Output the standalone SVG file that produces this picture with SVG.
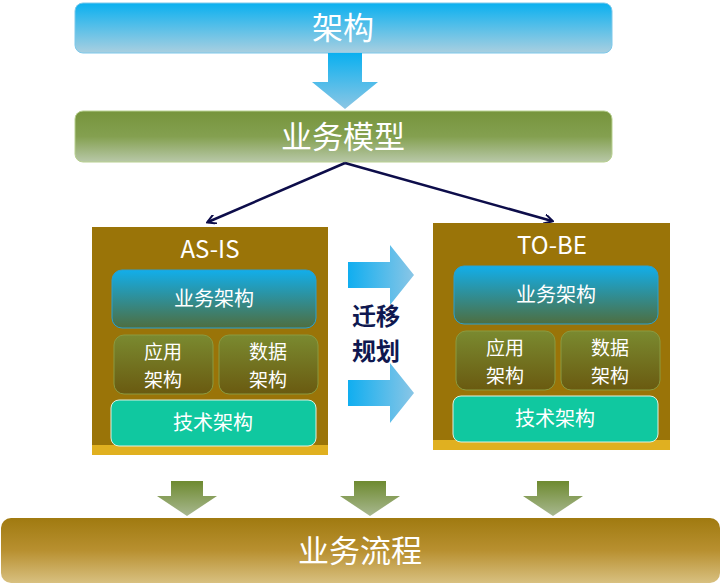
<svg xmlns="http://www.w3.org/2000/svg" width="721" height="588" viewBox="0 0 721 588">
<style>
text{font-family:"Noto Sans CJK SC","Liberation Sans",sans-serif;fill:#fff;text-anchor:middle}
.big{font-size:31px}.mid{font-size:20px}.two{font-size:19px}
.conn{stroke:#0d0d4a;stroke-width:2.5;fill:none;marker-end:url(#ah)}
</style>
<defs>
<linearGradient id="gBlue" x1="0" y1="0" x2="0" y2="1"><stop offset="0" stop-color="#0ab0f0"/><stop offset="1" stop-color="#a9cfe0"/></linearGradient>
<linearGradient id="gGreen" x1="0" y1="0" x2="0" y2="1"><stop offset="0" stop-color="#76943c"/><stop offset="0.5" stop-color="#84a050"/><stop offset="1" stop-color="#b8c8a8"/></linearGradient>
<linearGradient id="gBiz" x1="0" y1="0" x2="0" y2="1"><stop offset="0" stop-color="#12aeea"/><stop offset="1" stop-color="#4e6e40"/></linearGradient>
<linearGradient id="gOlive" x1="0" y1="0" x2="0" y2="1"><stop offset="0" stop-color="#7a8a30"/><stop offset="1" stop-color="#6a5a10"/></linearGradient>
<linearGradient id="gArrow" x1="0" y1="0" x2="0" y2="1"><stop offset="0" stop-color="#0ab0f0"/><stop offset="1" stop-color="#8cc6e4"/></linearGradient>
<linearGradient id="gArrowR" x1="0" y1="0" x2="1" y2="0"><stop offset="0" stop-color="#10aef0"/><stop offset="1" stop-color="#8ac6e6"/></linearGradient>
<linearGradient id="gDown" x1="0" y1="0" x2="0" y2="1"><stop offset="0" stop-color="#6e8a30"/><stop offset="1" stop-color="#a8b890"/></linearGradient>
<linearGradient id="gGold" x1="0" y1="0" x2="0" y2="1"><stop offset="0" stop-color="#a07a10"/><stop offset="0.5" stop-color="#b89030"/><stop offset="1" stop-color="#d8c080"/></linearGradient>
<marker id="ah" markerWidth="10" markerHeight="10" refX="8" refY="5" orient="auto" markerUnits="userSpaceOnUse"><path d="M0,0 L9,5 L0,10" fill="none" stroke="#0d0d4a" stroke-width="2"/></marker>
<g id="arrR"><path d="M0,-13 H42 V-30 L66,0 L42,30 V13 H0 Z" fill="url(#gArrowR)"/></g>
<g id="arrD"><path d="M-16,0 H16 V15 H30 L0,35 L-30,15 H-16 Z" fill="url(#gDown)"/></g>
</defs>
<g id="n-arch"><rect x="75" y="3" width="537" height="50" rx="8" fill="url(#gBlue)" stroke="#7cc8ea"/><text class="big" x="343" y="39">架构</text></g>
<g id="n-bluearrow"><path d="M328,53 H362 V82 H378 L345,109 L312,82 H328 Z" fill="url(#gArrow)"/></g>
<g id="n-model"><rect x="75" y="111" width="537" height="51" rx="8" fill="url(#gGreen)" stroke="#b8d090"/><text class="big" x="343" y="148">业务模型</text></g>
<g id="connectors">
<line class="conn" x1="345" y1="163" x2="208" y2="222"/>
<line class="conn" x1="345" y1="163" x2="552" y2="221"/>
</g>
<g id="n-asis">
<rect x="92" y="227" width="236" height="228" fill="#9a7408"/>
<rect x="92" y="445" width="236" height="10" fill="#e0b020"/>
<text x="210" y="258" font-size="24">AS-IS</text>
<rect x="112" y="270" width="204" height="58" rx="10" fill="url(#gBiz)" stroke="#2aa0d0"/><text class="mid" x="214" y="306">业务架构</text>
<rect x="114" y="335" width="99" height="59" rx="10" fill="url(#gOlive)" stroke="#8a9a40"/><text class="two" x="163" y="359">应用</text><text class="two" x="163" y="387">架构</text>
<rect x="219" y="335" width="99" height="59" rx="10" fill="url(#gOlive)" stroke="#8a9a40"/><text class="two" x="268" y="359">数据</text><text class="two" x="268" y="387">架构</text>
<rect x="111" y="400" width="205" height="46" rx="8" fill="#10c8a0" stroke="#e0f0e0"/><text class="mid" x="213" y="430">技术架构</text>
</g>
<g id="n-tobe">
<rect x="433" y="223" width="237" height="227" fill="#9a7408"/>
<rect x="433" y="440" width="237" height="10" fill="#e0b020"/>
<text x="552" y="254" font-size="24">TO-BE</text>
<rect x="454" y="266" width="204" height="58" rx="10" fill="url(#gBiz)" stroke="#2aa0d0"/><text class="mid" x="556" y="302">业务架构</text>
<rect x="456" y="331" width="99" height="59" rx="10" fill="url(#gOlive)" stroke="#8a9a40"/><text class="two" x="505" y="355">应用</text><text class="two" x="505" y="383">架构</text>
<rect x="561" y="331" width="99" height="59" rx="10" fill="url(#gOlive)" stroke="#8a9a40"/><text class="two" x="610" y="355">数据</text><text class="two" x="610" y="383">架构</text>
<rect x="453" y="396" width="205" height="46" rx="8" fill="#10c8a0" stroke="#e0f0e0"/><text class="mid" x="555" y="426">技术架构</text>
</g>
<g id="n-migrate">
<use href="#arrR" x="348" y="275"/>
<use href="#arrR" x="348" y="393"/>
<text x="376" y="325" font-size="24" font-weight="bold" style="fill:#0f1850">迁移</text>
<text x="376" y="360" font-size="24" font-weight="bold" style="fill:#0f1850">规划</text>
</g>
<g id="n-downarrows">
<use href="#arrD" x="187" y="481"/>
<use href="#arrD" x="370" y="481"/>
<use href="#arrD" x="553" y="481"/>
</g>
<g id="n-process"><rect x="1" y="518" width="719" height="65" rx="10" fill="url(#gGold)"/><text class="big" x="360" y="562">业务流程</text></g>
</svg>
